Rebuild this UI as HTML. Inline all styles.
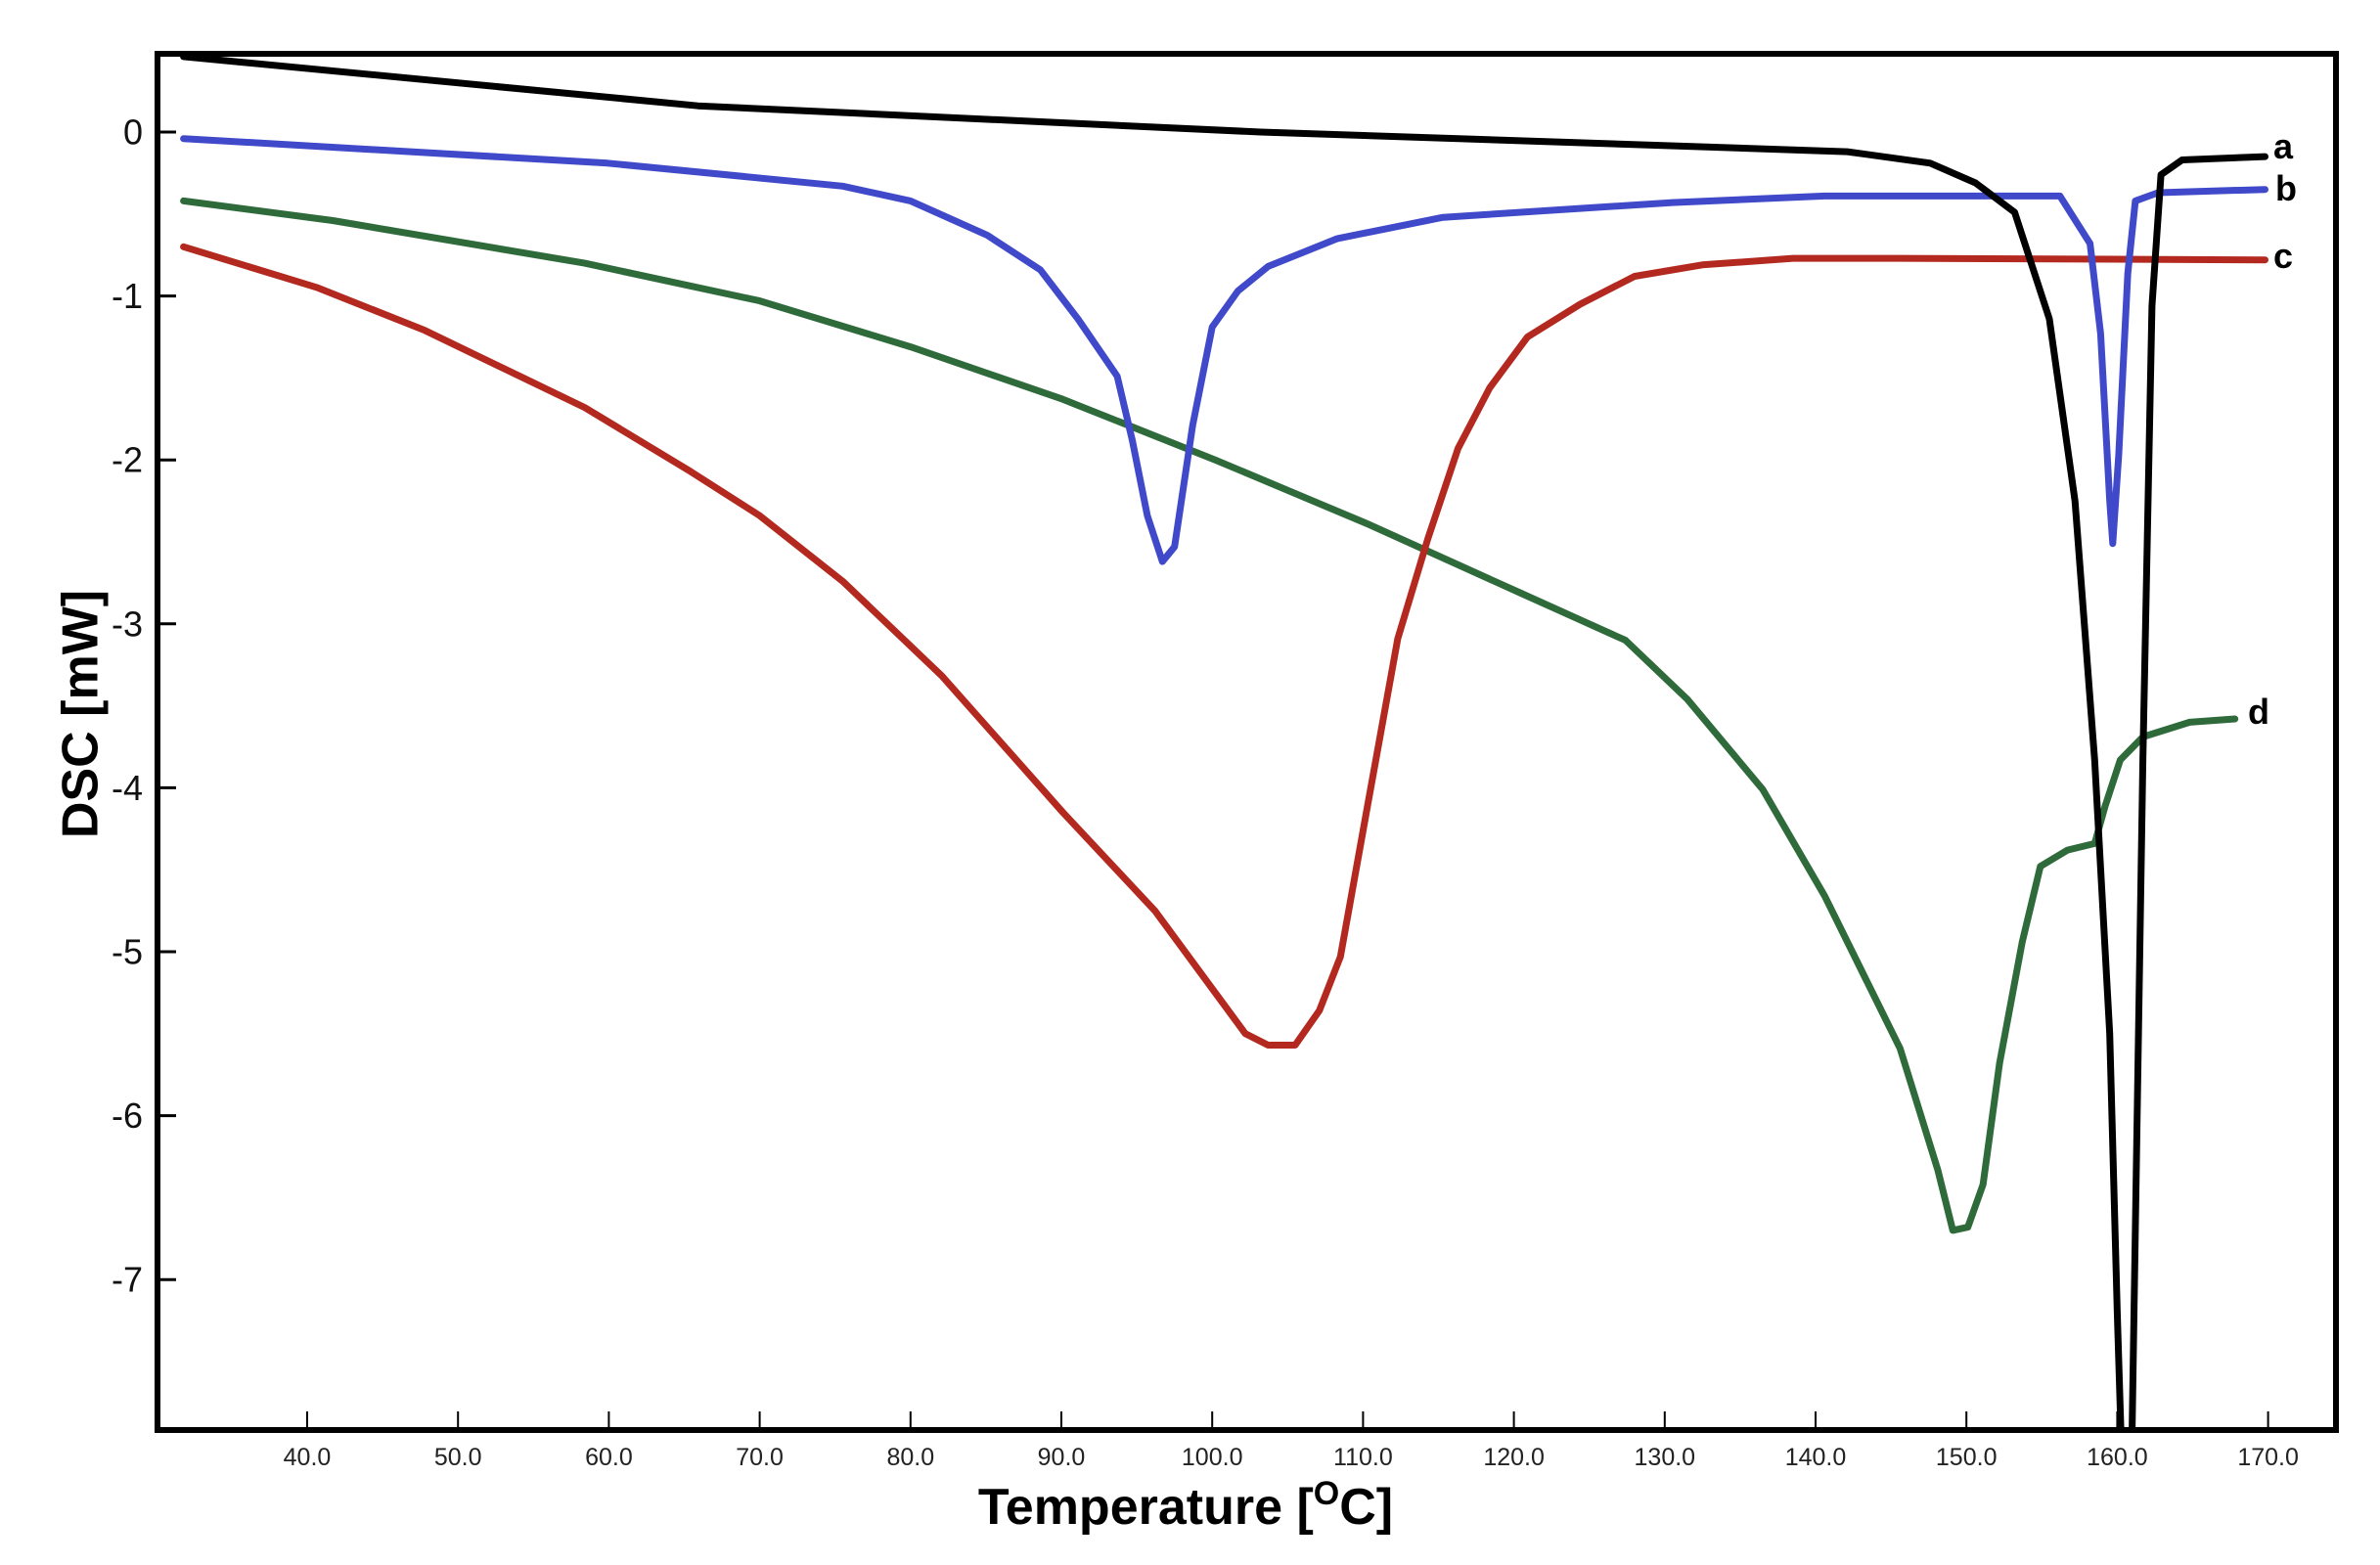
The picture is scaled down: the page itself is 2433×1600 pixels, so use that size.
<!DOCTYPE html>
<html><head><meta charset="utf-8"><style>
html,body{margin:0;padding:0;background:#fff;}
svg{display:block;font-family:"Liberation Sans",sans-serif;}
</style></head><body>
<svg id="chart" width="2433" height="1600" viewBox="0 0 2433 1600">
<defs><clipPath id="plotclip"><rect x="163" y="57" width="2222" height="1402"/></clipPath></defs>
<rect x="161" y="55" width="2227" height="1407" fill="#fff" stroke="#000" stroke-width="6"/>
<g id="yticks"></g>
<g id="xticks"></g>
<g id="curves" clip-path="url(#plotclip)"></g>
<g id="labels"></g>
<text x="86" y="730" transform="rotate(-90 86 730)" text-anchor="middle" dominant-baseline="middle" font-size="52" font-weight="bold">DSC [mW]</text>
<text x="1212" y="1558" text-anchor="middle" font-size="52" font-weight="bold">Temperature [<tspan font-size="34" dy="-20">O</tspan><tspan dy="20">C]</tspan></text>
</svg>
<script>
const yTickValues=[0,-1,-2,-3,-4,-5,-6,-7];
const xTickValues=[40,50,60,70,80,90,100,110,120,130,140,150,160,170];
const aT=[31.8,65.9,103.2,142.1,147.6,150.6,153.2,155.5,157.2,158.5,159.5,160.0,160.4,160.9,161.7,162.3,162.9,164.3,169.8];
const aV=[0.46,0.16,0.0,-0.12,-0.19,-0.31,-0.49,-1.14,-2.25,-3.83,-5.5,-7.2,-8.4,-8.4,-3.83,-1.06,-0.26,-0.17,-0.15];
const bT=[31.8,59.9,75.5,80.0,85.1,88.6,91.1,93.7,94.7,95.7,96.7,97.5,98.7,100.0,101.7,103.7,108.3,115.3,130.5,140.6,156.2,158.2,158.9,159.5,159.7,160.1,160.7,161.2,162.7,169.8];
const bV=[-0.04,-0.19,-0.33,-0.42,-0.63,-0.84,-1.14,-1.49,-1.88,-2.34,-2.62,-2.53,-1.79,-1.19,-0.97,-0.82,-0.65,-0.52,-0.43,-0.39,-0.39,-0.68,-1.23,-2.25,-2.51,-1.97,-0.86,-0.42,-0.37,-0.35];
const cT=[31.8,40.7,47.8,58.4,65.4,70,75.5,82.1,90.1,96.2,102.2,103.7,105.5,107.1,108.5,110.3,112.3,114.3,116.3,118.4,120.9,124.4,128,132.5,138.5,145.6,169.8];
const cV=[-0.70,-0.95,-1.21,-1.68,-2.07,-2.34,-2.74,-3.32,-4.15,-4.75,-5.50,-5.57,-5.57,-5.36,-5.03,-4.11,-3.09,-2.48,-1.93,-1.56,-1.25,-1.05,-0.88,-0.81,-0.77,-0.77,-0.78];
const dT=[31.8,41.7,58.4,70,80,90.1,100.2,110.3,120.4,127.4,131.5,136.5,140.6,145.6,148.1,149.1,150.1,151.1,152.2,153.7,154.9,156.7,158.5,159.2,160.2,161.7,164.8,167.8];
const dV=[-0.42,-0.54,-0.80,-1.03,-1.31,-1.63,-2.00,-2.39,-2.81,-3.10,-3.46,-4.01,-4.66,-5.59,-6.33,-6.70,-6.68,-6.42,-5.68,-4.94,-4.48,-4.38,-4.34,-4.11,-3.83,-3.69,-3.60,-3.58];
const NS='http://www.w3.org/2000/svg';
function xs(t){return 314+(t-40)*15.42;}
function ys(v){return 135-v*167.6;}
function mk(tag,attrs,parent){const e=document.createElementNS(NS,tag);for(const k in attrs)e.setAttribute(k,attrs[k]);parent.appendChild(e);return e;}
const yg=document.getElementById('yticks');
yTickValues.forEach(v=>{
  const l=mk('line',{x1:161,x2:180,y1:ys(v),y2:ys(v),stroke:'#000','stroke-width':3},yg);
  
  
  const t=mk('text',{x:146,y:ys(v),'text-anchor':'end','dominant-baseline':'central','font-size':36,fill:'#111'},yg);
  t.textContent=String(v);
  
  
});
const xg=document.getElementById('xticks');
xTickValues.forEach(v=>{
  const l=mk('line',{x1:xs(v),x2:xs(v),y1:1462,y2:1443,stroke:'#000','stroke-width':2},xg);
  
  
  const t=mk('text',{x:xs(v),y:1498,'text-anchor':'middle','font-size':25,fill:'#222'},xg);
  t.textContent=v.toFixed(1);
  
  
});
const cg=document.getElementById('curves');
function curve(T,V,color,name){
  const d=T.map((t,i)=>(i?'L':'M')+xs(t).toFixed(1)+' '+ys(V[i]).toFixed(1)).join(' ');
  const p=mk('path',{d:d,fill:'none',stroke:color,'stroke-width':7,'stroke-linejoin':'round','stroke-linecap':'round'},cg);
  
  
}
curve(dT,dV,'#2f6a3b','curve-d');
curve(cT,cV,'#b3291f','curve-c');
curve(bT,bV,'#4049c9','curve-b');
curve(aT,aV,'#000000','curve-a');
const lg=document.getElementById('labels');
[['a',2324,162],['b',2326,205],['c',2324,274],['d',2298,740]].forEach(a=>{
  const t=mk('text',{x:a[1],y:a[2],'font-size':36,'font-weight':'bold'},lg);
  t.textContent=a[0];
  
  
});
</script>
</body></html>
